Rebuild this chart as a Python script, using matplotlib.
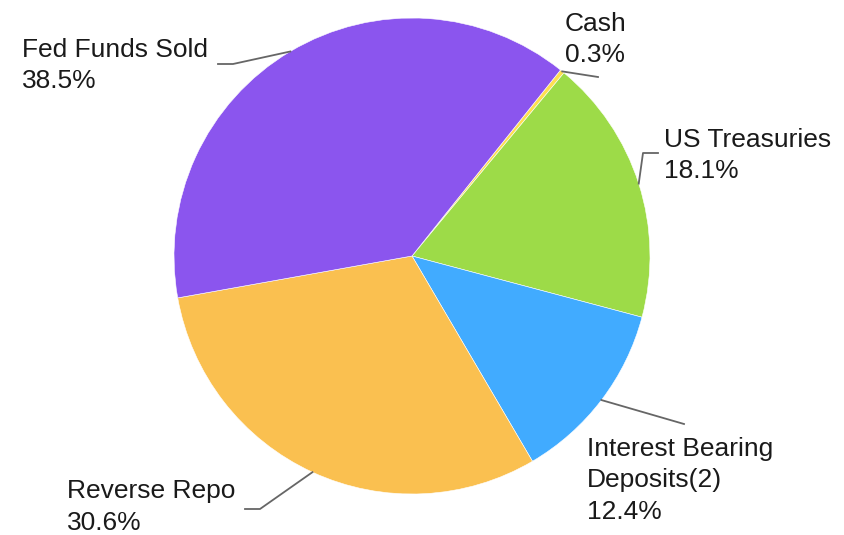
import matplotlib.pyplot as plt
import numpy as np

plt.rcParams['font.family'] = ['Liberation Sans', 'DejaVu Sans']

# slice data, clockwise from the top-right
labels = ["Cash", "US Treasuries", "Interest Bearing\nDeposits(2)", "Reverse Repo", "Fed Funds Sold"]
shares = [0.3, 18.1, 12.4, 30.6, 38.5]
colors = ["#FFDF4F", "#9DDB48", "#41ABFF", "#FAC050", "#8B55EE"]

W, H = 844, 535
CX, CY, R = 412, 256, 238

fig = plt.figure(figsize=(W / 100, H / 100), dpi=100)
ax = fig.add_axes([(CX - R) / W, (H - CY - R) / H, 2 * R / W, 2 * R / H])
wedges, _ = ax.pie(shares, colors=colors, startangle=51.4, counterclock=False,
                   radius=1, wedgeprops=dict(edgecolor="white", linewidth=0.4))
ax.set_xlim(-1, 1)
ax.set_ylim(-1, 1)


def px(x, y):
    # pixel (from top-left) -> figure fraction
    return x / W, 1 - y / H


# elbow / end points of leader lines and text anchors (pixels)
layout = {
    "Cash": dict(path=[(598, 77)], text=(565, 31)),
    "US Treasuries": dict(path=[(643, 153), (658, 153)], text=(664, 147)),
    "Interest Bearing\nDeposits(2)": dict(path=[(684, 424)], text=(587, 456)),
    "Reverse Repo": dict(path=[(260, 509), (245, 509)], text=(67, 498)),
    "Fed Funds Sold": dict(path=[(233, 64), (218, 64)], text=(22, 57)),
}

for w, lab, val in zip(wedges, labels, shares):
    ang = np.deg2rad((w.theta1 + w.theta2) / 2)
    sx = CX + R * np.cos(ang)
    sy = CY - R * np.sin(ang)
    pts = [(sx, sy)] + layout[lab]["path"]
    xs, ys = zip(*[px(*p) for p in pts])
    fig.add_artist(plt.Line2D(xs, ys, color="#666666", lw=1.3))
    tx, ty = layout[lab]["text"]
    lines = lab.split("\n") + [f"{val}%"]
    for i, line in enumerate(lines):
        fig.text(*px(tx, ty + i * 31.5), line, fontsize=19, color="#1a1a1a",
                 ha="left", va="baseline")

fig.savefig("out.png", dpi=100)
